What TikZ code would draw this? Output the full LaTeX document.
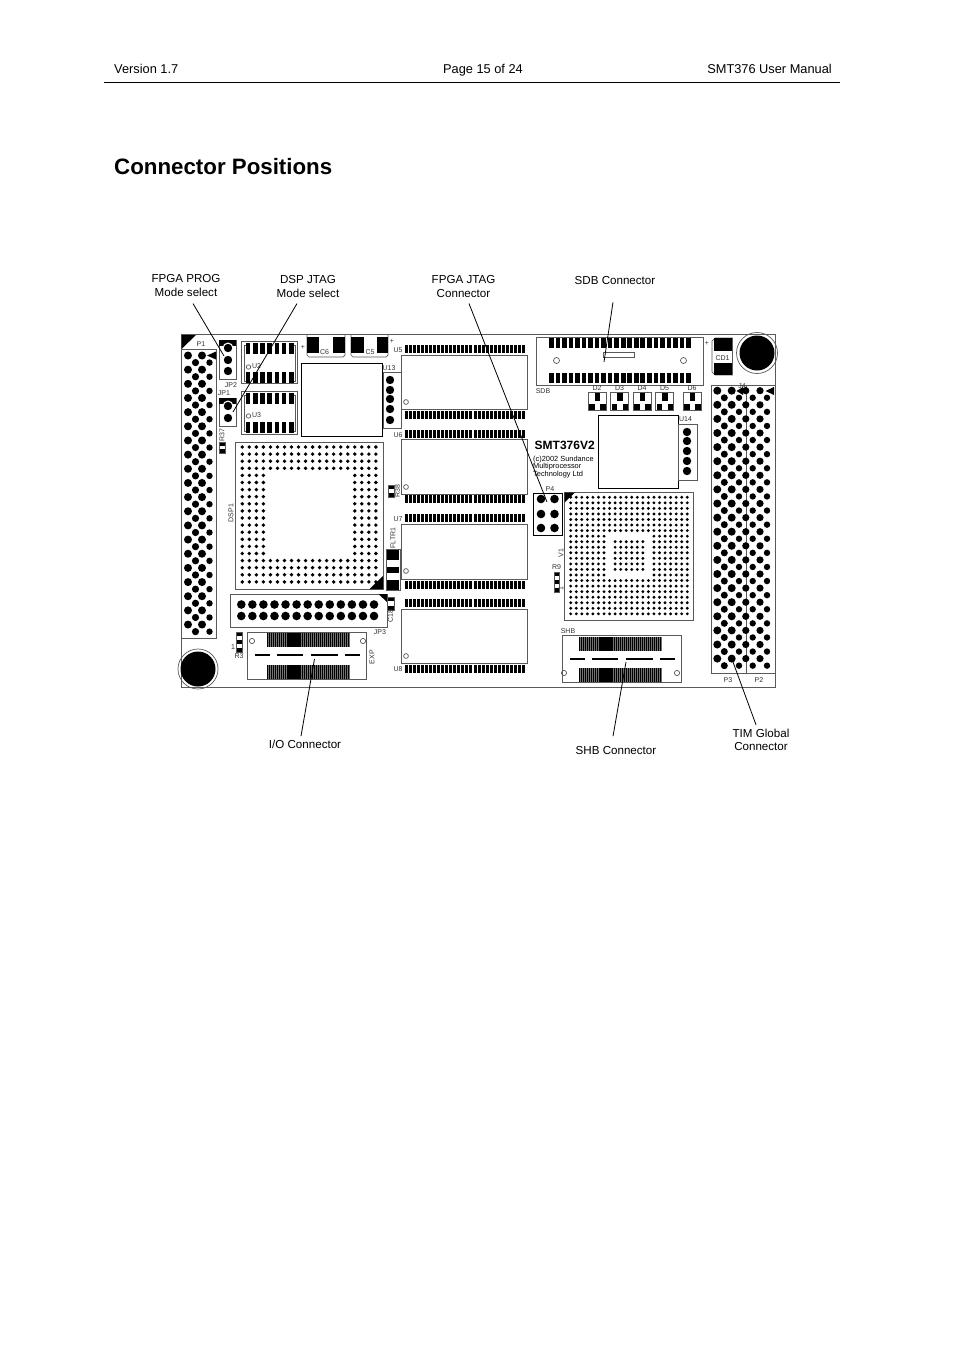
\documentclass[tikz,border=0pt]{standalone}
\usepackage{xcolor}
\usepackage{fontspec}
\setmainfont{Liberation Sans}
\tikzset{
	pcbline/.style={line width=.7pt, color=black!65},
	pcbtxt/.style={inner sep=0pt, color=black!80, font=\fontsize{7}{7}\selectfont},
	pcbup/.style={pcbtxt, rotate=90},
	captxt/.style={inner sep=0pt, align=center, font=\fontsize{11.6}{13.5}\selectfont},
	headtxt/.style={inner sep=0pt, font=\fontsize{12.8}{14}\selectfont},
	leader/.style={line width=.8pt, color=black}
}
\begin{document}
\begin{tikzpicture}[x=1pt,y=-1pt]
		\useasboundingbox (0,0) rectangle (954,1351);
		\fill[white] (0,0) rectangle (954,1351);

		\node[headtxt,anchor=base west] (version) at (114,74) {Version 1.7};
		\node[headtxt,anchor=base] (pageno) at (483,74) {Page 15 of 24};
		\node[headtxt,anchor=base east] (manual) at (832,74) {SMT376 User Manual};
		\draw[line width=.8pt] (104,82.5) -- (840,82.5);
		\node[inner sep=0pt,anchor=west,font=\fontsize{22.3}{24}\selectfont\bfseries] (title) at (114,166.5) {Connector Positions};

		\node[captxt] (lblprog) at (186,285.5) {FPGA PROG\\Mode select};
		\node[captxt] (lbldsp) at (308,286.5) {DSP JTAG\\Mode select};
		\node[captxt] (lbljtag) at (463.5,286.5) {FPGA JTAG\\Connector};
		\node[captxt] (lblsdb) at (615,281) {SDB Connector};
		\node[captxt] (lblio) at (305,744.5) {I/O Connector};
		\node[captxt] (lblshb) at (616,750.5) {SHB Connector};
		\node[captxt] (lbltim) at (761,740) {TIM Global\\Connector};

		\draw[pcbline] (181,334.5) rectangle (775,687.5);
		\fill (181.5,335) -- (196,335) -- (181.5,349) -- cycle;

		% P1 header
		\draw[pcbline] (181,349) rectangle (216.5,638);
		\node[pcbtxt] (lblpa) at (201,344) {P1};
		\foreach \r in {0,2,...,38} {
			\fill (188,{355.5+7.08*\r}) circle(4);
			\fill (202,{355.5+7.08*\r}) circle(4);
		}
		\foreach \r in {1,3,...,39} {
			\fill (195.5,{355.5+7.08*\r}) circle(3.6);
			\fill (209.5,{355.5+7.08*\r}) circle(3.2);
		}
		\fill (207,355.5) -- (216,351.5) -- (216,359.5) -- cycle;

		% mode jumpers
		\draw[pcbline] (219,340) rectangle (236,379);
		\fill (219,340) rectangle (236,346);
		\fill[white] (228,348) circle(5.5);
		\fill (228,348) circle(4.2);
		\fill (228,360) circle(4.2);
		\fill (228,371) circle(4.2);
		\node[pcbtxt] (lbljpb) at (231,385) {JP2};
		\draw[pcbline] (219,398) rectangle (236,426);
		\fill (219,398) rectangle (236,404);
		\fill[white] (228,406) circle(5.5);
		\fill (228,406) circle(4.2);
		\fill (228,418) circle(4.2);
		\node[pcbtxt] (lbljpa) at (224,393) {JP1};
		\fill (219.5,442) rectangle (225,446);
		\fill (219.5,449) rectangle (225,453);
		\draw[pcbline] (219.5,442) rectangle (225,453);
		\node[pcbup] (lblrg) at (222,435) {R37};

		% U2 and U3
		\foreach \nm/\ytop/\ybot/\pa/\pb/\cy in {2/341/383/343/372/367, 3/391/434/393/422/416} {
			\draw[pcbline] (241.5,\ytop) rectangle (297.5,\ybot);
			\draw[pcbline] (246,{\pa+2}) -- (244,{\pa+2}) -- (244,{\pb+9}) -- (246,{\pb+9});
			\draw[pcbline] (293,{\pa+2}) -- (295,{\pa+2}) -- (295,{\pb+9}) -- (293,{\pb+9});
			\foreach \i in {0,...,6} {
				\fill ({245.8+7.2*\i},\pa) rectangle ({250.4+7.2*\i},{\pa+11});
				\fill ({245.8+7.2*\i},\pb) rectangle ({250.4+7.2*\i},{\pb+11});
			}
			\draw[pcbline] (248.5,\cy) circle(2.2);
			\node[pcbtxt] (lblu\nm) at (256.5,{\cy-.5}) {U\nm};
		}

		% capacitors
		\draw[pcbline] (307,335) -- (307,355) -- (309,357) -- (343,357) -- (345,355) -- (345,335);
		\fill (307,337) rectangle (319,353);
		\fill (332.5,337) rectangle (345,353);
		\node[pcbtxt] (lblcf) at (324.5,352) {C6};
		\node[pcbtxt] (plusf) at (303,347) {+};
		\draw[pcbline] (351,335) -- (351,355) -- (353,357) -- (386,357) -- (388,355) -- (388,335);
		\fill (351,337) rectangle (363.5,353);
		\fill (377,337) rectangle (388,353);
		\node[pcbtxt] (lblce) at (370,352) {C5};
		\node[pcbtxt] (pluse) at (392,341) {+};

		\draw[line width=1pt] (301,363) rectangle (382,436);
		\draw[pcbline] (383,372) rectangle (401,428);
		\foreach \y in {380,390,399,409,420} \fill (390,\y) circle(4.2);
		\node[pcbtxt] (lblum) at (389,368) {U13};

		% DSP1
		\draw[pcbline] (235,442.5) rectangle (383,589);
		\node[pcbup] (lbldspa) at (231,513) {DSP1};
		\foreach \r in {0,...,19} \foreach \c in {0,...,19} {
			\ifnum\r<4 \fill ({242.3+7.03*\c},{447+7.1*\r}) circle(1.9);
			\else\ifnum\r>15 \fill ({242.3+7.03*\c},{447+7.1*\r}) circle(1.9);
			\else\ifnum\c<4 \fill ({242.3+7.03*\c},{447+7.1*\r}) circle(1.9);
			\else\ifnum\c>15 \fill ({242.3+7.03*\c},{447+7.1*\r}) circle(1.9);
			\fi\fi\fi\fi
		}
		\fill (369.5,589) -- (383,589) -- (383,576) -- cycle;
		\fill (388,485) rectangle (394,489);
		\fill (388,493) rectangle (394,497);
		\draw[pcbline] (388,485) rectangle (394,497);
		\node[pcbup] (lblrh) at (397.5,491) {R38};

		% JP3
		\draw[pcbline] (230,594) rectangle (387,627.5);
		\fill (378.5,594) -- (387,594) -- (387,602) -- cycle;
		\foreach \c in {0,...,12} {
			\fill ({241.3+11.06*\c},604.5) circle(4.3);
			\fill ({241.3+11.06*\c},616) circle(4.3);
		}
		\node[pcbtxt] (lbljpc) at (380,632) {JP3};
		\fill (387.5,597) rectangle (394,601);
		\fill (387.5,606) rectangle (394,610);
		\draw[pcbline] (387.5,597) rectangle (394,610);
		\node[pcbup] (lblcr) at (390.5,616) {C18};
		\fill (236.5,632) rectangle (242,636);
		\fill (236.5,640) rectangle (242,644);
		\fill (236.5,648) rectangle (242,652);
		\draw[pcbline] (236.5,632) rectangle (242,652);
		\node[pcbtxt] (lblonea) at (233,647) {1};
		\node[pcbtxt] (lblrc) at (239,656) {R3};

		% memories
		\foreach \nm/\ra/\rb/\pa/\pb/\cy/\ly in {5/355/409/345/411/402/350, 6/439/494/430/495/487/435, 7/524/579/514/581/571/519, 8/609/663/599/665/656/669} {
			\draw[pcbline] (401,\ra) rectangle (527,\rb);
			\foreach \i in {0,...,29} {
				\fill ({405+4.03*\i},\pa) rectangle ({408+4.03*\i},{\pa+8});
				\fill ({405+4.03*\i},\pb) rectangle ({408+4.03*\i},{\pb+8});
			}
			\draw[pcbline] (406,\cy) circle(2.4);
			\node[pcbtxt] (lblmem\nm) at (398,\ly) {U\nm};
		}

		% FLTR1
		\draw[pcbline] (386,549) rectangle (400,590);
		\fill (387,550) rectangle (398.5,560);
		\fill (387,567) rectangle (398.5,573);
		\fill (387,580) rectangle (398.5,590);
		\node[pcbup] (lblfl) at (393,538) {FLTR1};

		% EXP and SHB
		\foreach \nm/\bx/\by/\px/\py/\qy/\dy/\cy/\cl/\cr in {exp/247/632/267/633/665/655/641/252/363, shb/562/635/579/637/668/659/673/564/677} {
			\draw[pcbline] (\bx,\by) rectangle ({\bx+119.5},{\by+47});
			\fill[black!55] (\px,\py) rectangle ({\px+83},{\py+13.5});
			\fill[black!55] (\px,\qy) rectangle ({\px+83},{\qy+13.5});
			\foreach \i in {0,...,40} {
				\fill ({\px+2.03*\i},\py) rectangle ({\px+1.2+2.03*\i},{\py+13.5});
				\fill ({\px+2.03*\i},\qy) rectangle ({\px+1.2+2.03*\i},{\qy+13.5});
			}
			\draw[line width=2.8pt] ({\bx+8},\dy) -- ({\bx+22.5},\dy);
			\draw[line width=2.8pt] ({\bx+30},\dy) -- ({\bx+56},\dy);
			\draw[line width=2.8pt] ({\bx+64},\dy) -- ({\bx+91},\dy);
			\draw[line width=2.8pt] ({\bx+97.5},\dy) -- ({\bx+112.5},\dy);
			\draw[pcbline] (\cl,\cy) circle(2.6);
			\draw[pcbline] (\cr,\cy) circle(2.6);
		}
		\node[pcbup] (lblexp) at (372,657) {EXP};
		\node[pcbtxt] (lblshbb) at (568,631) {SHB};

		% mounting holes
		\draw[pcbline] (198,669) circle(20);
		\fill (198,669) circle(17.5);
		\draw[pcbline] (757,353) circle(20.5);
		\fill (757,353) circle(17.5);

		% SDB
		\draw[pcbline] (536,337) rectangle (703,385);
		\foreach \i in {0,...,21} {
			\fill ({549.2+6.52*\i},338) rectangle ({553.8+6.52*\i},348);
			\fill ({549.2+6.52*\i},373) rectangle ({553.8+6.52*\i},383);
		}
		\draw[pcbline] (603.5,352) rectangle (634.5,357);
		\draw[pcbline] (556.5,360.5) circle(3);
		\draw[pcbline] (683.5,360.5) circle(3);
		\node[pcbtxt] (lblsdbb) at (543,391) {SDB};

		% CD1
		\draw[pcbline] (715,338) -- (732.5,338) -- (732.5,375) -- (715,375) -- (712,372) -- (712,341) -- cycle;
		\fill (714,338) rectangle (732,351);
		\fill (714,363) rectangle (732,375);
		\node[pcbtxt] (lblcd) at (722.5,358) {CD1};
		\node[pcbtxt] (pluscd) at (707,343.5) {+};

		% LEDs
		\foreach \nm/\x in {2/588, 3/610.5, 4/633, 5/655.5, 6/683} {
			\draw[pcbline] (\x,392) rectangle ({\x+18},410);
			\fill ({\x+6.5},392.5) rectangle ({\x+12},401);
			\fill ({\x+1},404) rectangle ({\x+6.5},410);
			\fill ({\x+12},404) rectangle ({\x+17.5},410);
			\node[pcbtxt] (lbld\nm) at ({\x+9},388) {D\nm};
		}

		% U14
		\draw[line width=1pt] (598,415) rectangle (678.5,488);
		\draw[pcbline] (678.5,424) rectangle (697.5,480);
		\foreach \y in {432,441,451,461,471} \fill (687,\y) circle(4.2);
		\node[pcbtxt] (lblun) at (685.5,419.5) {U14};

		% board name
		\node[inner sep=0pt,anchor=west,font=\fontsize{12}{13}\selectfont\bfseries] (boardname) at (534.5,445.5) {SMT376V2};
		\node[inner sep=0pt,anchor=north west,align=left,font=\fontsize{7.4}{6.2}\selectfont] (boardnote) at (533,455.5) {(c)2002 Sundance\\Multiprocessor\\Technology Ltd};

		% P4
		\draw[line width=.9pt] (533.5,493) rectangle (562,535);
		\foreach \y in {499,514,528} {
			\fill (541,\y) circle(4.3);
			\fill (554.5,\y) circle(4.3);
		}
		\node[pcbtxt] (lblpd) at (550,489) {P4};

		% V1
		\draw[pcbline] (564,492.5) rectangle (693,620);
		\fill (564.5,492.5) -- (575,492.5) -- (564.5,502.5) -- cycle;
		\foreach \r in {0,...,21} \foreach \c in {0,...,21} {
			\ifnum\r<7 \fill ({570.7+5.55*\c},{497.3+5.55*\r}) circle(1.6);
			\else\ifnum\r>14 \fill ({570.7+5.55*\c},{497.3+5.55*\r}) circle(1.6);
			\else\ifnum\c<7 \fill ({570.7+5.55*\c},{497.3+5.55*\r}) circle(1.6);
			\else\ifnum\c>14 \fill ({570.7+5.55*\c},{497.3+5.55*\r}) circle(1.6);
			\fi\fi\fi\fi
		}
		\foreach \r in {8,...,13} \foreach \c in {8,...,13} \fill ({570.7+5.55*\c},{497.3+5.55*\r}) circle(1.6);
		\node[pcbup] (lblva) at (561,553) {V1};
		\fill (554,572) rectangle (559.5,576);
		\fill (554,580) rectangle (559.5,584);
		\fill (554,588) rectangle (559.5,592);
		\draw[pcbline] (554,572) rectangle (559.5,592);
		\node[pcbtxt] (lblri) at (556.5,567) {R9};
		\node[pcbup] (lblonec) at (561,589) {1};

		% P2 and P3
		\draw[pcbline] (711,385.5) rectangle (775,673.5);
		\draw[pcbline] (746,385.5) -- (746,673.5);
		\node[pcbtxt] (lblpc) at (728,680.5) {P3};
		\node[pcbtxt] (lblpb) at (759,680.5) {P2};
		\node[pcbtxt] (lblja) at (742,386) {J4};
		\foreach \r in {0,2,...,38} {
			\fill (717.3,{390.7+7.05*\r}) circle(4);
			\fill (731.7,{390.7+7.05*\r}) circle(4);
			\fill (745.8,{390.7+7.05*\r}) circle(3.6);
			\fill (760,{390.7+7.05*\r}) circle(3.6);
		}
		\foreach \r in {1,3,...,39} {
			\fill (724.3,{390.7+7.05*\r}) circle(3.5);
			\fill (739,{390.7+7.05*\r}) circle(3.2);
			\fill (752.7,{390.7+7.05*\r}) circle(3.2);
			\fill (767,{390.7+7.05*\r}) circle(3.2);
		}
		\fill (736.5,391) -- (743,387) -- (743,395) -- cycle;
		\fill (765.5,391) -- (774,387) -- (774,395) -- cycle;

		% leaders
		\coordinate (tipprog) at (224,356);
		\coordinate (tipdsp) at (233,412);
		\coordinate (tipjtag) at (547,502);
		\coordinate (tipsdb) at (604,362);
		\coordinate (tipio) at (314.5,659);
		\coordinate (tipshb) at (626,662);
		\coordinate (tiptim) at (733,662);
		\draw[leader] (lblprog.south) ++(7,7) -- (tipprog);
		\draw[leader] (lbldsp.south) ++(-11,6) -- (tipdsp);
		\draw[leader] (lbljtag.south) ++(5.5,6) -- (tipjtag);
		\draw[leader] (lblsdb.south) ++(-2,17) -- (tipsdb);
		\draw[leader] (lblio.north) ++(-4,-4) -- (tipio);
		\draw[leader] (lblshb.north) ++(-3,-10) -- (tipshb);
		\draw[leader] (lbltim.north) ++(-5,-4) -- (tiptim);
	\end{tikzpicture}
\end{document}
